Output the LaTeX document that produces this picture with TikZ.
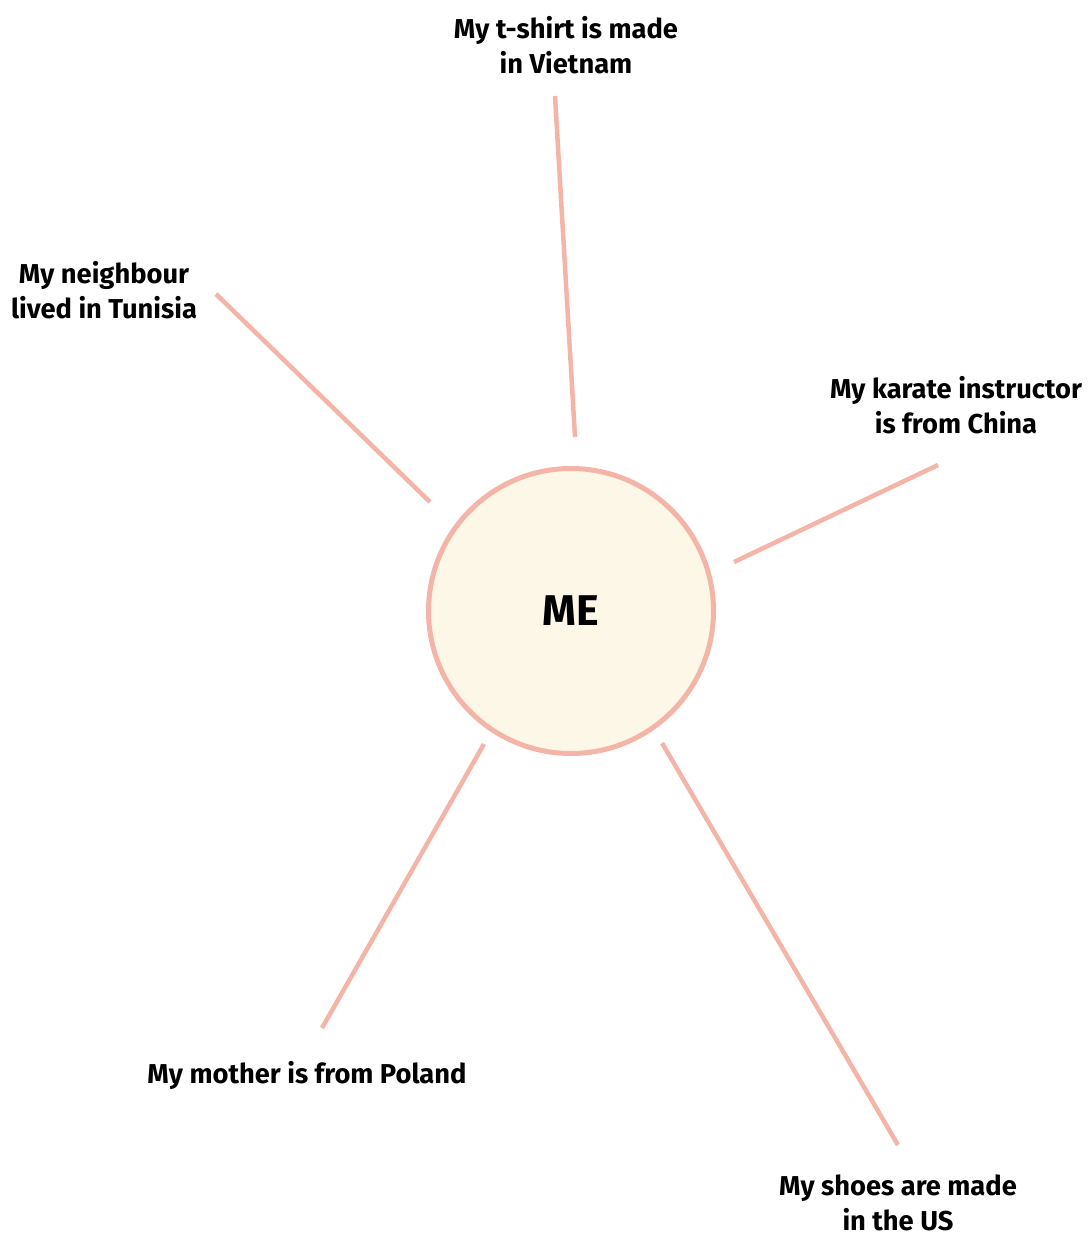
\documentclass[tikz,border=0pt]{standalone}
\usepackage{fontspec}
\setmainfont{Fira Sans}
\definecolor{linec}{HTML}{F4B4A8}
\definecolor{fillc}{HTML}{FDF7E8}
\tikzset{
  lab/.style={font=\bfseries\fontsize{27.3}{35}\selectfont, align=center, inner sep=0pt},
  spoke/.style={draw=linec, line width=4.5pt},
}
\begin{document}
\begin{tikzpicture}[x=1pt,y=-1pt]
\useasboundingbox (0,0) rectangle (1090,1236);
\node[circle, draw=linec, fill=fillc, line width=5pt, minimum size=285pt, inner sep=0pt,
  font=\bfseries\fontsize{43}{45}\selectfont] (me) at (571,611) {ME};

\node[lab] (ts) at (566,45) {My t-shirt is made\\in Vietnam};
\node[lab] (nb) at (104,290) {My neighbour\\lived in Tunisia};
\node[lab] (kr) at (956,405) {My karate instructor\\is from China};
\node[lab] (mo) at (307,1075) {My mother is from Poland};
\node[lab] (sh) at (898,1203) {My shoes are made\\in the US};

\coordinate (a1) at (555,96);  \coordinate (b1) at (575,437);
\coordinate (a2) at (216,294); \coordinate (b2) at (430,502);
\coordinate (a3) at (938,465); \coordinate (b3) at (734,562);
\coordinate (a4) at (322,1028);\coordinate (b4) at (484,744);
\coordinate (a5) at (898,1145);\coordinate (b5) at (662,743);
\draw[spoke] (a1) -- (b1);
\draw[spoke] (a2) -- (b2);
\draw[spoke] (a3) -- (b3);
\draw[spoke] (a4) -- (b4);
\draw[spoke] (a5) -- (b5);
\end{tikzpicture}
\end{document}
